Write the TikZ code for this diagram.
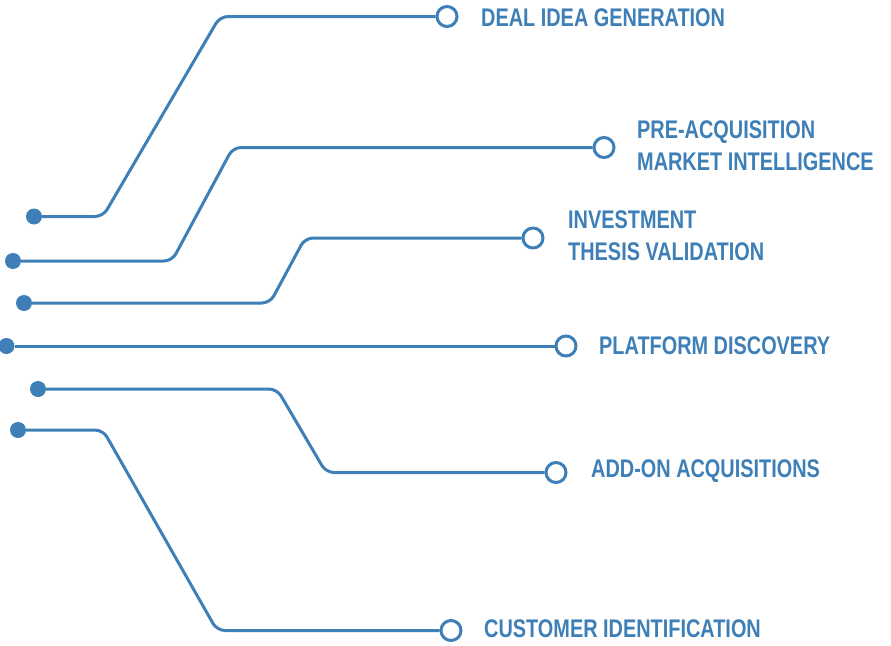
\documentclass[tikz,border=0pt]{standalone}
\usepackage{fontspec}
\newfontfamily\lblfont{Liberation Sans}[FakeStretch=0.78]
\definecolor{flow}{RGB}{61,127,182}
\begin{document}
\begin{tikzpicture}[x=1pt,y=-1pt,
  wire/.style={draw=flow,line width=3pt,rounded corners=8pt},
  startdot/.style={circle,fill=flow,inner sep=0pt,minimum size=16pt},
  enddot/.style={circle,draw=flow,fill=white,line width=3pt,inner sep=0pt,minimum size=20pt},
  lbl/.style={anchor=base west,inner sep=0pt,text=flow,align=left,
    font=\lblfont\bfseries\fontsize{25.5}{32}\selectfont}]
\useasboundingbox (0,0) rectangle (891,645);
% start dots
\node[startdot] (d1) at (34,216.5) {};
\node[startdot] (d2) at (13,261) {};
\node[startdot] (d3) at (24,303) {};
\node[startdot] (d4) at (6.5,346) {};
\node[startdot] (d5) at (38,389) {};
\node[startdot] (d6) at (18,430) {};
% end circles
\node[enddot] (c1) at (447,16.5) {};
\node[enddot] (c2) at (604,147.5) {};
\node[enddot] (c3) at (533,238) {};
\node[enddot] (c4) at (566,346) {};
\node[enddot] (c5) at (556,472.5) {};
\node[enddot] (c6) at (451,630.5) {};
% bends
\coordinate (b1a) at (103,216.5); \coordinate (b1b) at (220,16.5);
\coordinate (b2a) at (172,261);   \coordinate (b2b) at (233,147.5);
\coordinate (b3a) at (270,303);   \coordinate (b3b) at (305,238);
\coordinate (b5a) at (277,389);   \coordinate (b5b) at (326,472.5);
\coordinate (b6a) at (103,430);   \coordinate (b6b) at (217,630.5);
% wires
\draw[wire] (d1) -- (b1a) -- (b1b) -- (c1);
\draw[wire] (d2) -- (b2a) -- (b2b) -- (c2);
\draw[wire] (d3) -- (b3a) -- (b3b) -- (c3);
\draw[wire] (d4) -- (c4);
\draw[wire] (d5) -- (b5a) -- (b5b) -- (c5);
\draw[wire] (d6) -- (b6a) -- (b6b) -- (c6);
% labels
\node[lbl] (t1) at (481,27) {DEAL IDEA GENERATION};
\node[lbl] (t2) at (637,170) {PRE-ACQUISITION\\MARKET INTELLIGENCE};
\node[lbl] (t3) at (568,260) {INVESTMENT\\THESIS VALIDATION};
\node[lbl] (t4) at (599,354) {PLATFORM DISCOVERY};
\node[lbl] (t5) at (591,477) {ADD-ON ACQUISITIONS};
\node[lbl] (t6) at (484,637) {CUSTOMER IDENTIFICATION};
\end{tikzpicture}
\end{document}
